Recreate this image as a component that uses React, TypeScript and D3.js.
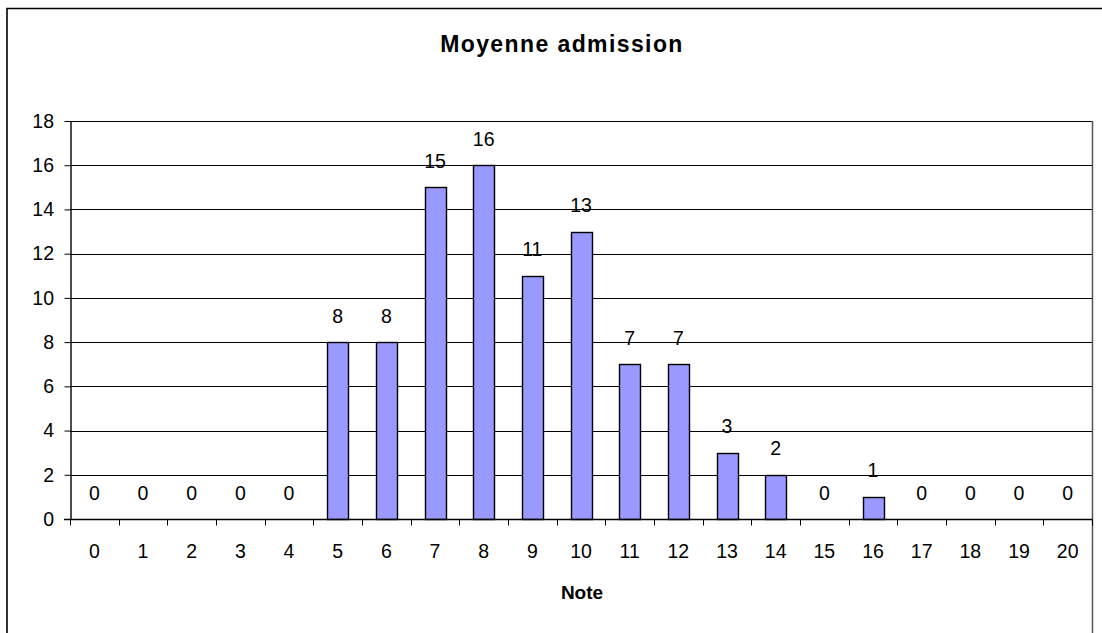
import React, { useEffect, useRef } from 'react';
import * as d3 from 'd3';

// notes 0..20 and how many students got each
const notes = ['0', '1', '2', '3', '4', '5', '6', '7', '8', '9', '10', '11', '12', '13', '14', '15', '16', '17', '18', '19', '20'];
const counts = [0, 0, 0, 0, 0, 8, 8, 15, 16, 11, 13, 7, 7, 3, 2, 0, 1, 0, 0, 0, 0];
const yTicks = [0, 2, 4, 6, 8, 10, 12, 14, 16, 18];

const chartTitle = 'Moyenne admission';
const xTitle = 'Note';

const width = 1102;
const height = 633;
const plotLeft = 70;
const plotRight = 1092;
const plotTop = 121;
const plotBottom = 519;
const font = '"Liberation Sans", Arial, sans-serif';
const fontSize = '19.5px';

export default function App() {
  const ref = useRef<SVGSVGElement>(null);

  useEffect(() => {
    const svg = d3.select(ref.current);
    svg.selectAll('*').remove();

    const x = d3.scaleBand().domain(notes).range([plotLeft, plotRight]).paddingInner(0.57).paddingOuter(0.285);
    const xTickScale = d3.scaleBand().domain(notes).range([plotLeft, plotRight]);
    const y = d3.scaleLinear().domain([0, 18]).range([plotBottom, plotTop]);

    // outer chart frame (cropped at right and bottom)
    svg.append('path')
      .attr('d', `M7,${height} V8.5 H${width}`)
      .attr('fill', 'none')
      .attr('stroke', '#000')
      .attr('stroke-width', 1.6);

    // horizontal gridlines
    svg.append('g')
      .selectAll('line')
      .data(yTicks.filter(d => d > 0))
      .enter()
      .append('line')
      .attr('x1', plotLeft)
      .attr('x2', plotRight)
      .attr('y1', d => Math.round(y(d)) + 0.5)
      .attr('y2', d => Math.round(y(d)) + 0.5)
      .attr('stroke', '#000')
      .attr('stroke-width', 1);

    // right frame line of the plot area
    svg.append('line')
      .attr('x1', plotRight + 0.5)
      .attr('x2', plotRight + 0.5)
      .attr('y1', plotTop)
      .attr('y2', height)
      .attr('stroke', '#555')
      .attr('stroke-width', 1.5);

    // bars
    const barData = counts.map((c, i) => ({ c, n: notes[i] })).filter(d => d.c > 0);
    svg.append('g')
      .selectAll('rect')
      .data(barData)
      .enter()
      .append('rect')
      .attr('x', d => Math.round(x(d.n) as number) + 0.5)
      .attr('y', d => Math.round(y(d.c)) + 0.5)
      .attr('width', Math.round(x.bandwidth()))
      .attr('height', d => Math.round(plotBottom - y(d.c)))
      .attr('fill', '#9999ff')
      .attr('stroke', '#000')
      .attr('stroke-width', 1.4);

    // value labels
    svg.append('g')
      .selectAll('text')
      .data(counts)
      .enter()
      .append('text')
      .attr('x', (d, i) => (xTickScale(notes[i]) as number) + xTickScale.bandwidth() / 2)
      .attr('y', d => y(d) - 19.5)
      .attr('text-anchor', 'middle')
      .style('font-family', font)
      .style('font-size', fontSize)
      .text(d => d);

    // y axis
    const yAxis = svg.append('g')
      .attr('transform', `translate(${plotLeft + 0.5},0)`)
      .call(d3.axisLeft(y).tickValues(yTicks).tickSize(6).tickSizeOuter(0).tickPadding(10.5));
    yAxis.select('.domain').attr('stroke', '#000').attr('stroke-width', 1.4);
    yAxis.selectAll('.tick line').attr('stroke', '#000');
    yAxis.selectAll('text')
      .style('font-family', font)
      .style('font-size', fontSize)
      .attr('fill', '#000');

    // x axis with ticks between categories
    const xAxis = svg.append('g').attr('transform', `translate(0,${plotBottom + 0.5})`);
    xAxis.append('line')
      .attr('x1', plotLeft - 6)
      .attr('x2', plotRight)
      .attr('stroke', '#000')
      .attr('stroke-width', 1.4);
    xAxis.selectAll('line.tk')
      .data(notes.concat(['end']))
      .enter()
      .append('line')
      .attr('class', 'tk')
      .attr('x1', (d, i) => Math.round(plotLeft + i * xTickScale.step()) + 0.5)
      .attr('x2', (d, i) => Math.round(plotLeft + i * xTickScale.step()) + 0.5)
      .attr('y1', 0)
      .attr('y2', 6)
      .attr('stroke', '#000');
    xAxis.selectAll('text')
      .data(notes)
      .enter()
      .append('text')
      .attr('x', d => (xTickScale(d) as number) + xTickScale.bandwidth() / 2)
      .attr('y', 38)
      .attr('text-anchor', 'middle')
      .style('font-family', font)
      .style('font-size', fontSize)
      .text(d => d);

    // titles
    svg.append('text')
      .attr('x', 562)
      .attr('y', 52)
      .attr('text-anchor', 'middle')
      .style('font-family', font)
      .style('font-size', '23px')
      .style('font-weight', 'bold')
      .style('letter-spacing', '1.4px')
      .text(chartTitle);

    svg.append('text')
      .attr('x', 582)
      .attr('y', 599)
      .attr('text-anchor', 'middle')
      .style('font-family', font)
      .style('font-size', '19px')
      .style('font-weight', 'bold')
      .text(xTitle);
  }, []);

  return (
    <svg
      ref={ref}
      width={width}
      height={height}
      style={{ position: 'absolute', left: 0, top: 0, background: '#fff' }}
    />
  );
}
